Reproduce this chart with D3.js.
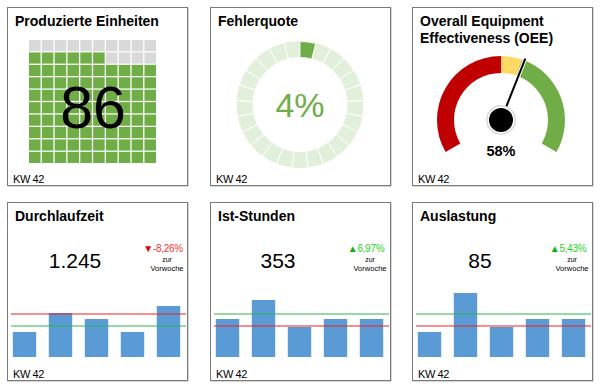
<!DOCTYPE html>
<html><head><meta charset="utf-8">
<script src="https://cdn.jsdelivr.net/npm/d3@7"></script>
<style>
body{margin:0;background:#fff}
svg{display:block}
text{font-family:"Liberation Sans",Arial,sans-serif}
</style>
</head><body><svg id="c" width="600" height="390"></svg>
<script>
// ---------- data ----------
const panelTitles = [["Produzierte Einheiten"], ["Fehlerquote"], ["Overall Equipment", "Effectiveness (OEE)"], ["Durchlaufzeit"], ["Ist-Stunden"], ["Auslastung"]];
const weekLabel = "KW 42";
const producedUnits = 86;
const producedCapacity = 100;
const errorRatePct = 4;
const errorRingSegments = 25;
const oeePct = 58;
const oeeZoneLimits = [0, 50, 58, 100];
const barCategories = ["Mo", "Di", "Mi", "Do", "Fr"];
const durchlaufzeitBars = [25, 44, 38, 25, 51];
const istStundenBars = [38, 57, 30, 38, 38];
const auslastungBars = [25, 64, 30, 38, 38];
const redLineValues = [43, 31, 31];
const greenLineValues = [31, 43, 43];
const kpiValues = ["1.245", "353", "85"];
const kpiChanges = ["-8,26%", "6,97%", "5,43%"];
const kpiChangeDirections = ["down", "up", "up"];
const changeCaption = ["zur", "Vorwoche"];

// ---------- layout ----------
const svg = d3.select("#c");
const panelX = [7, 210, 412], panelY = [7, 202], PW = 180, PH = 178;
const GREEN = "#70ad47", LIGHTGREEN = "#e2efda", GRAY = "#d9d9d9", RED = "#c00000", YELLOW = "#ffd966", BLUE = "#5b9bd5";

const panels = [];
for (let r = 0; r < 2; r++) for (let c = 0; c < 3; c++) panels.push({x: panelX[c], y: panelY[r]});

panels.forEach((p, i) => {
  const g = svg.append("g");
  g.append("rect").attr("x", p.x + 1).attr("y", p.y + 1).attr("width", PW).attr("height", PH)
    .attr("fill", "none").attr("stroke", "#b0b0b0").attr("stroke-width", 1);
  g.append("rect").attr("x", p.x + 0.5).attr("y", p.y + 0.5).attr("width", PW).attr("height", PH)
    .attr("fill", "#fff").attr("stroke", "#7a7a7a").attr("stroke-width", 1);
  const t = g.append("text").attr("x", p.x + 8).attr("y", p.y + 19)
    .attr("font-size", 14).attr("font-weight", "bold").attr("fill", "#000");
  panelTitles[i].forEach((line, k) => t.append("tspan").attr("x", p.x + 8).attr("dy", k ? 17 : 0).text(line));
  g.append("text").attr("x", p.x + 6).attr("y", p.y + 176).attr("font-size", 11)
    .attr("letter-spacing", -0.4).attr("fill", "#000").text(weekLabel);
  p.g = g;
});

// ---------- Panel 1: waffle ----------
(function () {
  const p = panels[0];
  const idx = d3.range(10);
  const xs = d3.scaleBand().domain(idx).range([p.x + 22, p.x + 149]).paddingInner(0.1);
  const ys = d3.scaleBand().domain(idx).range([p.y + 156, p.y + 33]).paddingInner(0.1);
  const cells = d3.range(producedCapacity).map(i => ({col: i % 10, row: Math.floor(i / 10), on: i < producedUnits}));
  p.g.selectAll("rect.cell").data(cells).join("rect").attr("class", "cell")
    .attr("x", d => xs(d.col)).attr("y", d => ys(d.row))
    .attr("width", xs.bandwidth()).attr("height", ys.bandwidth())
    .attr("fill", d => d.on ? GREEN : GRAY);
  p.g.append("text").attr("x", p.x + 86).attr("y", p.y + 121).attr("text-anchor", "middle")
    .attr("font-family", "Roboto, 'Open Sans', sans-serif").attr("font-weight", 300)
    .attr("font-size", 59).attr("fill", "#000").text(producedUnits);
})();

// ---------- Panel 2: donut ----------
(function () {
  const p = panels[1];
  const cx = p.x + 90, cy = p.y + 97.5;
  const gg = p.g.append("g").attr("transform", `translate(${cx},${cy})`);
  const ang = d3.scaleLinear().domain([0, 100]).range([0, 2 * Math.PI]);
  const arc = d3.arc().innerRadius(47).outerRadius(64);
  const segs = d3.range(errorRingSegments).map(i => ({startAngle: ang(i * 100 / errorRingSegments), endAngle: ang((i + 1) * 100 / errorRingSegments)}));
  gg.selectAll("path.seg").data(segs).join("path").attr("class", "seg").attr("d", arc)
    .attr("fill", LIGHTGREEN).attr("stroke", "#fff").attr("stroke-width", 1);
  gg.append("path").attr("d", d3.arc().innerRadius(47).outerRadius(63)({startAngle: 0, endAngle: ang(errorRatePct)}))
    .attr("fill", GREEN).attr("stroke", "#fff").attr("stroke-width", 0.8);
  gg.append("text").attr("y", 12).attr("text-anchor", "middle")
    .attr("font-family", "Roboto, 'Open Sans', sans-serif").attr("font-weight", 300)
    .attr("font-size", 34).attr("fill", GREEN).text(errorRatePct + "%");
})();

// ---------- Panel 3: gauge ----------
(function () {
  const p = panels[2];
  const cx = p.x + 89, cy = p.y + 113;
  const gg = p.g.append("g").attr("transform", `translate(${cx},${cy})`);
  const ang = d3.scaleLinear().domain([0, 100]).range([-2 * Math.PI / 3, 2 * Math.PI / 3]);
  const arc = d3.arc().innerRadius(47).outerRadius(64);
  const zoneColors = [RED, YELLOW, GREEN];
  const zones = d3.range(oeeZoneLimits.length - 1).map(i => ({startAngle: ang(oeeZoneLimits[i]), endAngle: ang(oeeZoneLimits[i + 1]), c: zoneColors[i]}));
  gg.selectAll("path.zone").data(zones).join("path").attr("class", "zone").attr("d", arc).attr("fill", d => d.c);
  const a = ang(oeePct + 1);
  const x1 = Math.sin(a) * 12, y1 = -Math.cos(a) * 12, x2 = Math.sin(a) * 66, y2 = -Math.cos(a) * 66;
  gg.append("line").attr("x1", x1).attr("y1", y1).attr("x2", x2).attr("y2", y2)
    .attr("stroke", "#fff").attr("stroke-width", 4);
  gg.append("line").attr("x1", x1).attr("y1", y1).attr("x2", x2).attr("y2", y2)
    .attr("stroke", "#000").attr("stroke-width", 2);
  gg.append("circle").attr("r", 15).attr("fill", "#d8d8d8");
  gg.append("circle").attr("r", 13.5).attr("fill", "#fff");
  gg.append("circle").attr("r", 12).attr("fill", "#000");
  gg.append("text").attr("y", 36).attr("text-anchor", "middle").attr("font-size", 14.5)
    .attr("font-weight", "bold").attr("fill", "#000").text(oeePct + "%");
})();

// ---------- Panels 4-6: bar KPIs ----------
const barSeries = [durchlaufzeitBars, istStundenBars, auslastungBars];
barSeries.forEach((vals, k) => {
  const p = panels[3 + k];
  const x = d3.scaleBand().domain(barCategories).range([p.x - 0.5, p.x + 179.5]).paddingInner(0.35).paddingOuter(0.175);
  const y = d3.scaleLinear().domain([0, 70]).range([p.y + 155, p.y + 85]);
  p.g.selectAll("rect.bar").data(vals).join("rect").attr("class", "bar")
    .attr("x", (d, i) => x(barCategories[i])).attr("width", x.bandwidth())
    .attr("y", d => y(d)).attr("height", d => y(0) - y(d)).attr("fill", BLUE);
  const lx0 = p.x + 4, lx1 = p.x + 179;
  p.g.append("line").attr("x1", lx0).attr("x2", lx1).attr("y1", y(greenLineValues[k])).attr("y2", y(greenLineValues[k]))
    .attr("stroke", "#2fb34f").attr("stroke-width", 1.2);
  p.g.append("line").attr("x1", lx0).attr("x2", lx1).attr("y1", y(redLineValues[k])).attr("y2", y(redLineValues[k]))
    .attr("stroke", "#f02020").attr("stroke-width", 1.2);
  p.g.append("text").attr("x", p.x + 68).attr("y", p.y + 66).attr("text-anchor", "middle")
    .attr("font-size", 21).attr("fill", "#000").text(kpiValues[k]);
  const up = kpiChangeDirections[k] === "up";
  const ccol = up ? "#22d622" : "#ff3030";
  const dx = p.x + 156;
  const t = p.g.append("text").attr("x", dx).attr("y", p.y + 50).attr("text-anchor", "middle")
    .attr("font-size", 10).attr("letter-spacing", -0.3).attr("fill", ccol);
  t.append("tspan").attr("fill", up ? "#10b010" : "#e00000").text(up ? "▲" : "▼");
  t.append("tspan").text(kpiChanges[k]);
  p.g.append("text").attr("x", dx + 4).attr("y", p.y + 60).attr("text-anchor", "middle")
    .attr("font-size", 7).attr("fill", "#000").text(changeCaption[0]);
  p.g.append("text").attr("x", dx + 4).attr("y", p.y + 69).attr("text-anchor", "middle")
    .attr("font-size", 7.5).attr("fill", "#000").text(changeCaption[1]);
});
</script>
</body></html>
